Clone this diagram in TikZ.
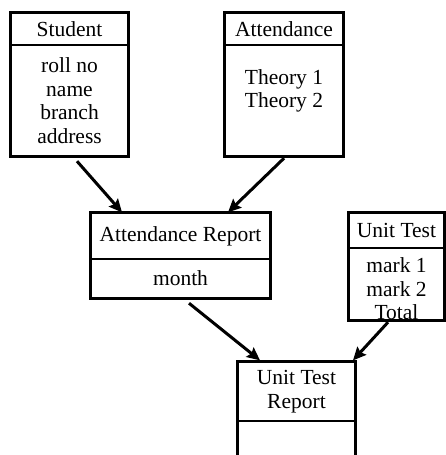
\documentclass[tikz,border=0pt]{standalone}
\usepackage{fontspec}
\setmainfont{Liberation Serif}
\usetikzlibrary{arrows.meta}

\tikzset{
  boxhead/.style={draw, line width=1.3pt, rectangle, inner sep=0pt, align=center},
  boxbody/.style={rectangle, inner sep=0pt, align=center},
  boxframe/.style={draw, line width=3pt},
  flow/.style={line width=3pt, -{Stealth[length=13pt,width=12pt,inset=2pt]}}
}

\begin{document}
\begin{tikzpicture}[x=1pt,y=-1pt]
                        \useasboundingbox (0,0) rectangle (446,455);
                        \clip (0,0) rectangle (446,455);
                        {\fontsize{21.5}{23.5}\selectfont

                        % Drawing box Student
                        \node [boxhead, minimum width=117pt, minimum height=32pt] (student) at (69.5,29) {Student};%
                        \node [boxbody, minimum width=117pt, minimum height=111pt] (studentbody) at (69.5,100.5) {roll no\\name\\branch\\address};%
                        \draw [boxframe] (student.north west) rectangle (studentbody.south east);%

                        % Drawing box Attendance
                        \node [boxhead, minimum width=118pt, minimum height=32pt] (att) at (284,29) {Attendance};%
                        \node [boxbody, minimum width=118pt, minimum height=111pt] (attbody) at (284,100.5) {Theory 1\\Theory 2\\\mbox{}};%
                        \draw [boxframe] (att.north west) rectangle (attbody.south east);%

                        % Drawing box Attendance Report
                        \node [boxhead, minimum width=179pt, minimum height=46pt] (arep) at (180.5,236) {Attendance Report};%
                        \node [boxbody, minimum width=179pt, minimum height=39pt] (arepbody) at (180.5,278.5) {month};%
                        \draw [boxframe] (arep.north west) rectangle (arepbody.south east);%

                        % Drawing box Unit Test
                        \node [boxhead, minimum width=95pt, minimum height=35pt] (ut) at (396.5,230.5) {Unit Test};%
                        \node [boxbody, minimum width=95pt, minimum height=72pt] (utbody) at (396.5,289) {mark 1\\mark 2\\Total};%
                        \draw [boxframe] (ut.north west) rectangle ([yshift=5pt]utbody.south east);%

                        % Drawing box Unit Test Report
                        \node [boxhead, minimum width=117pt, minimum height=59pt] (utr) at (296.5,391.5) {Unit Test\\Report};%
                        \node [boxbody, minimum width=117pt, minimum height=54pt] (utrbody) at (296.5,448) {};%
                        \draw [boxframe] (utr.north west) rectangle (utrbody.south east);%

                        % Drawing arrows
                        \draw [flow] ([xshift=7.5pt,yshift=-5pt]studentbody.south) -- ([xshift=-58.5pt]arep.north);%
                        \draw [flow] ([yshift=-2pt]attbody.south) -- ([xshift=47.5pt]arep.north);%
                        \draw [flow] ([xshift=8.5pt,yshift=-5pt]arepbody.south) -- ([xshift=-36.5pt,yshift=1pt]utr.north);%
                        \draw [flow] ([xshift=-8.5pt,yshift=3pt]utbody.south) -- ([xshift=56.5pt,yshift=1pt]utr.north);%
                        }
                    \end{tikzpicture}
\end{document}
